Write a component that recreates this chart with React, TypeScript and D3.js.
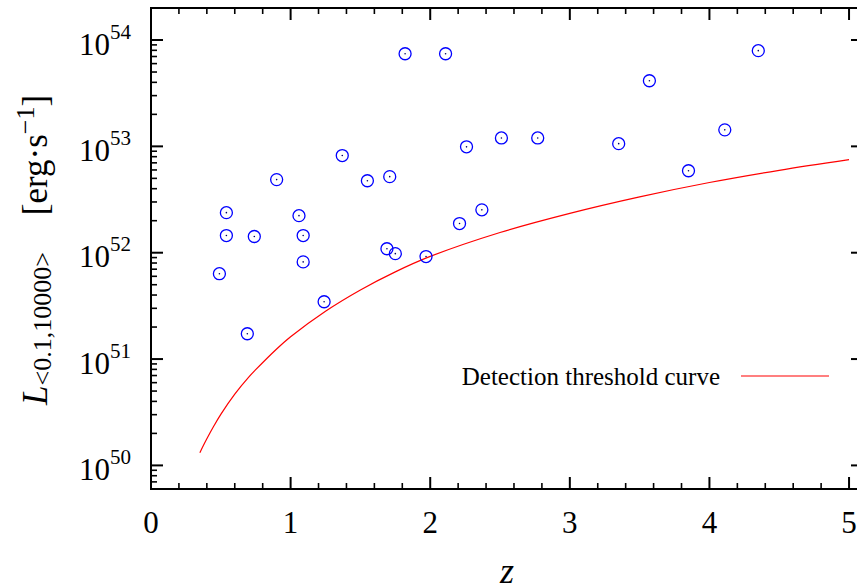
import React from "react";
import * as d3 from "d3";

// redshift and luminosity of the bursts
const burstZ = [
  0.49, 0.54, 0.54, 0.69, 0.74, 0.9, 1.06, 1.09, 1.09, 1.24, 1.37, 1.55, 1.69, 1.71,
  1.75, 1.82, 1.97, 2.11, 2.21, 2.26, 2.37, 2.51, 2.77, 3.35, 3.57, 3.85, 4.11, 4.35,
];
const burstL = [
  6.35e51, 2.38e52, 1.45e52, 1.73e51, 1.42e52, 4.87e52, 2.23e52, 1.45e52, 8.2e51, 3.46e51,
  8.2e52, 4.75e52, 1.09e52, 5.19e52, 9.8e51, 7.43e53, 9.2e51, 7.43e53, 1.88e52, 9.9e52,
  2.53e52, 1.2e53, 1.2e53, 1.06e53, 4.14e53, 5.9e52, 1.43e53, 7.94e53,
];

// detection threshold curve, log10 L at each z
const thresholdZ = [
  0.35, 0.4, 0.45, 0.5, 0.6, 0.7, 0.75, 0.9, 1.0, 1.25, 1.5, 1.75, 2.0, 2.5, 3.0, 3.5, 4.0, 4.5, 5.0,
];
const thresholdLogL = [
  50.12, 50.25, 50.37, 50.48, 50.67, 50.83, 50.9, 51.095, 51.21, 51.45, 51.65, 51.82, 51.965, 52.19,
  52.37, 52.525, 52.66, 52.775, 52.875,
];

const xTicks = [0, 1, 2, 3, 4, 5];
const yDecades = [50, 51, 52, 53, 54];

const W = 857;
const H = 587;
const left = 151;
const top = 8;
const bottom = 489;
const right = 863;

const serif = { fontFamily: "Liberation Serif, Times New Roman, serif" };

export default function App() {
  const x = d3.scaleLinear().domain([0, 5.1]).range([left, right]);
  const y = d3.scaleLog().domain([6e49, 2e54]).range([bottom, top]);

  const line = d3
    .line<number>()
    .x((_, i) => x(thresholdZ[i]))
    .y((d) => y(Math.pow(10, d)))
    .curve(d3.curveCatmullRom);

  // minor ticks for the log axis
  const yMinor: number[] = [];
  for (let d = 49; d <= 54; d++) {
    for (let k = 2; k <= 9; k++) {
      const v = k * Math.pow(10, d);
      if (v > 6.05e49 && v < 1.99e54) yMinor.push(v);
    }
  }
  const xMinor = d3.range(0, 51).map((i) => i / 10).filter((v, i) => i % 2 === 0 && i % 10 !== 0 && v <= 5.1);

  return (
    <svg width={W} height={H} style={{ position: "absolute", left: 0, top: 0, background: "#fff" }}>
      {/* frame */}
      <line x1={left} x2={left} y1={top - 1} y2={bottom + 1} stroke="#000" strokeWidth={2} />
      <line x1={left - 1} x2={right} y1={bottom} y2={bottom} stroke="#000" strokeWidth={2} />
      <line x1={left - 1} x2={right} y1={top} y2={top} stroke="#000" strokeWidth={2} />
      <line x1={right} x2={right} y1={top} y2={bottom} stroke="#000" strokeWidth={2} />

      {/* x ticks */}
      {xTicks.map((t) => (
        <g key={"xt" + t}>
          <line x1={x(t)} x2={x(t)} y1={bottom} y2={bottom - 12} stroke="#000" strokeWidth={2} />
          <line x1={x(t)} x2={x(t)} y1={top} y2={top + 12} stroke="#000" strokeWidth={2} />
          <text x={x(t)} y={533} textAnchor="middle" style={serif} fontSize={31}>
            {t}
          </text>
        </g>
      ))}
      {xMinor.map((t) => (
        <g key={"xm" + t}>
          <line x1={x(t)} x2={x(t)} y1={bottom} y2={bottom - 6} stroke="#000" strokeWidth={1.6} />
          <line x1={x(t)} x2={x(t)} y1={top} y2={top + 6} stroke="#000" strokeWidth={1.6} />
        </g>
      ))}

      {/* y ticks */}
      {yDecades.map((d) => {
        const v = Math.pow(10, d);
        return (
          <g key={"yt" + d}>
            <line x1={left} x2={left + 12} y1={y(v)} y2={y(v)} stroke="#000" strokeWidth={2} />
            <line x1={right} x2={right - 12} y1={y(v)} y2={y(v)} stroke="#000" strokeWidth={2} />
            <text x={131} y={y(v) + 14.5} textAnchor="end" style={serif} fontSize={31}>
              10
              <tspan fontSize={21} dy={-16}>
                {d}
              </tspan>
            </text>
          </g>
        );
      })}
      {yMinor.map((v) => (
        <line key={"ym" + v} x1={left} x2={left + 6} y1={y(v)} y2={y(v)} stroke="#000" strokeWidth={1.6} />
      ))}

      {/* threshold curve */}
      <path d={line(thresholdLogL) || ""} fill="none" stroke="#ff0000" strokeWidth={1.2} />

      {/* bursts */}
      {burstZ.map((z, i) => (
        <g key={"p" + i}>
          <circle cx={x(z)} cy={y(burstL[i])} r={6} fill="none" stroke="#0000ff" strokeWidth={1.3} />
          <circle cx={x(z)} cy={y(burstL[i])} r={0.8} fill="#000066" />
        </g>
      ))}

      {/* legend */}
      <text x={720} y={385} textAnchor="end" style={serif} fontSize={25}>
        Detection threshold curve
      </text>
      <line x1={741} x2={829} y1={376} y2={376} stroke="#ff0000" strokeWidth={1.2} />

      {/* axis titles */}
      <text x={507} y={583} textAnchor="middle" style={serif} fontSize={36} fontStyle="italic">
        z
      </text>
      <text transform="translate(47,405) rotate(-90)" style={serif} fontSize={35}>
        <tspan fontStyle="italic">L</tspan>
        <tspan fontSize={26} dy={4}>
          {"<0.1,10000>"}
        </tspan>
        <tspan dy={-4} dx={37}>
          [erg·s
        </tspan>
        <tspan fontSize={26} dy={-13}>
          −1
        </tspan>
        <tspan dy={13}>]</tspan>
      </text>
    </svg>
  );
}
